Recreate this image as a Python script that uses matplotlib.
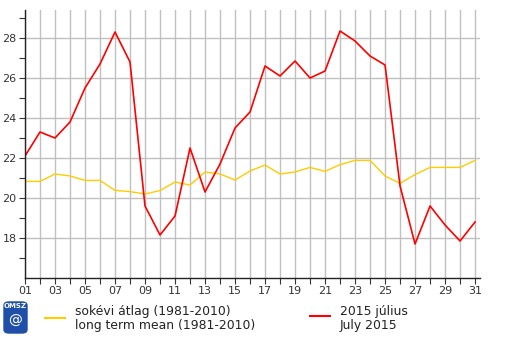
import matplotlib
matplotlib.use("Agg")

import matplotlib.pyplot as plt
from matplotlib.patches import FancyBboxPatch

days = list(range(1, 32))

july_2015 = [
    22.1, 23.3, 23.0, 23.8, 25.5, 26.7, 28.3, 26.8, 19.6, 18.15,
    19.1, 22.5, 20.3, 21.7, 23.5, 24.3, 26.6, 26.1, 26.85, 26.0,
    26.35, 28.35, 27.85, 27.1, 26.65, 20.6, 17.7, 19.6, 18.65, 17.85,
    18.8
]

long_term_mean = [
    20.83, 20.83, 21.2, 21.1, 20.88, 20.88, 20.38, 20.32, 20.2, 20.37,
    20.8, 20.65, 21.3, 21.2, 20.9, 21.35, 21.65, 21.2, 21.3, 21.53,
    21.33, 21.67, 21.88, 21.88, 21.1, 20.73, 21.17, 21.53, 21.53, 21.53,
    21.88
]

x_labels = ["%02d" % d for d in days]
y_major = [18, 20, 22, 24, 26, 28]
y_minor = [17, 19, 21, 23, 25, 27, 29]

W, H = 505, 338
fig = plt.figure(figsize=(W / 100, H / 100), dpi=100)
ax = fig.add_axes([25 / W, (H - 278) / H, 455 / W, 268 / H])

ax.plot(days, long_term_mean, color="#ffcc00", lw=1.0)
ax.plot(days, july_2015, color="#ff0000", lw=1.2)

ax.set_xlim(1, 31.33)
ax.set_ylim(16, 29.4)

ax.set_xticks(days)
ax.set_xticklabels([lab if d % 2 == 1 else "" for d, lab in zip(days, x_labels)])
ax.set_yticks(y_major)
ax.set_yticks(y_minor, minor=True)

ax.grid(True, which="major", color="#c0c0c0", lw=1.0)
ax.set_axisbelow(True)
ax.tick_params(axis="both", which="both", direction="out", length=4,
               width=0.8, color="#333333", labelsize=8, labelcolor="#333333")
ax.tick_params(axis="y", pad=2)
ax.tick_params(axis="x", pad=2)

for s in ["top", "right"]:
    ax.spines[s].set_visible(False)
for s in ["left", "bottom"]:
    ax.spines[s].set_color("#222222")
    ax.spines[s].set_linewidth(1.0)

# legend
fs = 8.9
fig.add_artist(plt.Line2D([45 / W, 65 / W], [1 - 318 / H] * 2, color="#ffcc00", lw=1.5))
fig.text(75 / W, 1 - 312 / H, "sokévi átlag (1981-2010)", fontsize=fs,
         color="#222222", va="center")
fig.text(75 / W, 1 - 326 / H, "long term mean (1981-2010)", fontsize=fs,
         color="#222222", va="center")
fig.add_artist(plt.Line2D([310 / W, 330 / W], [1 - 316 / H] * 2, color="#ff0000", lw=1.5))
fig.text(340 / W, 1 - 312 / H, "2015 július", fontsize=fs,
         color="#222222", va="center")
fig.text(340 / W, 1 - 326 / H, "July 2015", fontsize=fs,
         color="#222222", va="center")

# OMSZ logo (simplified)
logo = FancyBboxPatch((4 / W, 1 - 333 / H), 23 / W, 31 / H,
                      boxstyle="round,pad=0,rounding_size=0.01",
                      transform=fig.transFigure, facecolor="#1f4fa8",
                      edgecolor="#1f4fa8")
fig.add_artist(logo)
fig.text(15.5 / W, 1 - 306 / H, "OMSZ", fontsize=5, color="white",
         ha="center", va="center", weight="bold")
fig.text(15.5 / W, 1 - 321 / H, "@", fontsize=10, color="white",
         ha="center", va="center")

fig.savefig("out.png", dpi=100)
